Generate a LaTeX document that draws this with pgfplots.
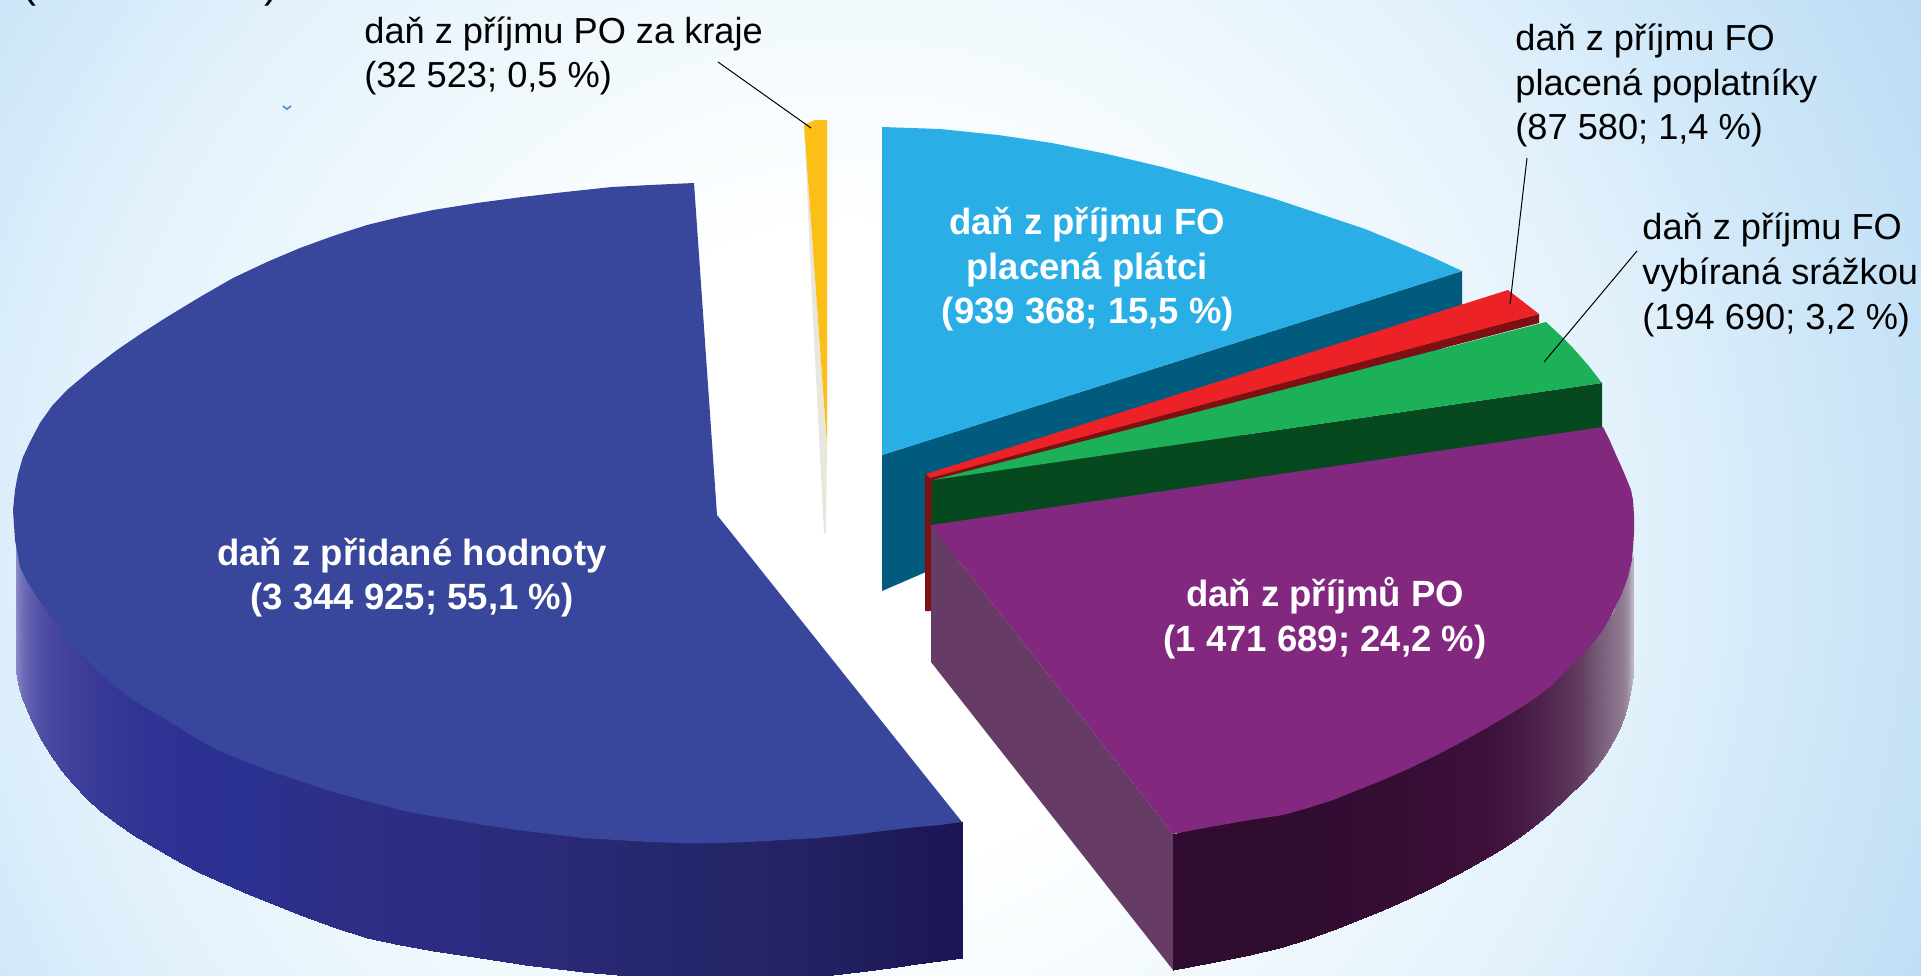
\documentclass[border=0pt]{standalone}
\usepackage{pgfplots}
\pgfplotsset{compat=1.18}
\usepackage{fontspec}
\setmainfont{Liberation Sans}
\definecolor{cTop}{RGB}{56,70,156}
\definecolor{cCyan}{RGB}{41,174,230}
\definecolor{cTeal}{RGB}{0,91,127}
\definecolor{cRed}{RGB}{236,34,39}
\definecolor{cDRed}{RGB}{124,16,19}
\definecolor{cGreen}{RGB}{28,177,89}
\definecolor{cDGreen}{RGB}{7,73,31}
\definecolor{cPurple}{RGB}{130,40,127}
\definecolor{cInner}{RGB}{102,60,102}
\definecolor{cYellow}{RGB}{251,191,24}
\definecolor{cGray}{RGB}{233,230,221}
\pgfdeclareradialshading{bgr}{\pgfpoint{0bp}{0bp}}{%
 color(0bp)=(white);
 color(6bp)=(white);
 color(9.3bp)=(rgb,255:red,245;green,251;blue,254);
 color(12.2bp)=(rgb,255:red,236;green,246;blue,252);
 color(14.3bp)=(rgb,255:red,230;green,243;blue,252);
 color(16.4bp)=(rgb,255:red,220;green,238;blue,251);
 color(18.4bp)=(rgb,255:red,208;green,232;blue,249);
 color(20.4bp)=(rgb,255:red,200;green,227;blue,247);
 color(22.4bp)=(rgb,255:red,191;green,221;blue,244);
 color(26.5bp)=(rgb,255:red,184;green,217;blue,242);
 color(50bp)=(rgb,255:red,184;green,217;blue,242)}
\newcommand{\lab}[3]{\node[anchor=base west,inner sep=0pt,text=black] at (axis cs:#1,#2) {\fontsize{18.1}{21.7}\selectfont #3};}
\newcommand{\wlab}[3]{\node[anchor=base,inner sep=0pt,text=white] at (axis cs:#1,#2) {\fontsize{18.25}{21.7}\selectfont\bfseries #3};}
\pgfplotstableread{
x y c
16 543 0
18 552 .5
22 570 1.2
30 582 2
40 598 3.2
50 612 4
61 626 4.65
73 640 6
86 655 6.5
100 668 7
116 682 7.5
133 695 8
150 705 8.5
167 715 9
183 725 9.5
200 735 10
225 746 10.5
250 758 11
275 768 11.5
300 777 12
333 787 12.5
367 797 13
400 805 13.5
433 811 14
467 817 14.5
500 822 15
525 825 15.5
550 829 16
583 832 16.5
617 835 17
650 837 18
683 838 18.5
717 838 19
750 837 19.5
783 835 20
808 833 20.5
833 831 21
867 827 22
890 824 22.5
917 821 23
940 818 23.5
962 822 24
16 672 0
18 684 .5
22 698 1.2
30 717 2
40 738 3.2
50 754 4
61 770 4.65
73 784 6
86 798 6.5
100 811 7
116 823 7.5
133 835 8
150 845 8.5
167 855 9
183 864 9.5
200 873 10
225 884 10.5
250 895 11
275 905 11.5
300 915 12
333 927 12.5
367 938 13
400 945 13.5
433 951 14
467 956 14.5
500 961 15
525 965 15.5
550 968 16
583 972 16.5
617 975 17
650 978 18
683 980 18.5
717 981 19
750 981 19.5
783 980 20
808 978 20.5
833 975 21
867 971 22
890 968 22.5
917 964 23
940 961 23.5
962 958 24
}\blueside
\pgfplotstableread{
x y c
1173 834 0
1210 824 .5
1250 817 1
1283 811 2
1308 804 2.5
1333 797 3
1358 787 3.5
1383 777 4
1408 766 4.5
1433 754 5
1458 741 5.5
1483 727 6
1500 717 6.5
1517 707 7
1533 697 8
1550 684 9
1567 669 10
1583 650 11
1597 635 12
1606 622 12.5
1613 613 13
1619 598 13.7
1624 585 14.3
1628 573 15
1631 560 15.7
1633 556 16
1173 970 0
1210 963 .5
1250 955 1
1283 947 2
1308 939 2.5
1333 930 3
1358 920 3.5
1383 910 4
1408 899 4.5
1433 887 5
1458 874 5.5
1483 860 6
1500 850 6.5
1517 839 7
1533 827 8
1550 813 9
1567 797 10
1583 782 11
1597 766 12
1606 753 12.5
1613 741 13
1619 730 13.7
1624 717 14.3
1628 703 15
1631 688 15.7
1633 675 16
}\purpleside
\begin{document}
\begin{tikzpicture}
\useasboundingbox (0,0) rectangle (960.5pt,487.5pt);
\begin{scope}
\clip (0,0) rectangle (960.5pt,487.5pt);
\shade[shading=bgr] (425pt,212.5pt) circle (650pt);
\end{scope}
\begin{axis}[
  at={(0,0)},anchor=south west,
  scale only axis,width=960.5pt,height=487.5pt,
  xmin=0,xmax=1921,ymin=0,ymax=975,y dir=reverse,
  hide axis,no markers,
]
% blue side
\addplot[surf,shader=interp,mesh/rows=2,mesh/ordering=x varies,point meta=explicit,point meta rel=per plot,
  colormap={bluecm}{rgb255=(143,140,200) rgb255=(118,115,187) rgb255=(95,93,175) rgb255=(84,83,168) rgb255=(72,72,160)
   rgb255=(66,67,156) rgb255=(63,64,155) rgb255=(55,58,150) rgb255=(50,53,148) rgb255=(46,50,146)
   rgb255=(44,48,144) rgb255=(43,49,145) rgb255=(45,48,136) rgb255=(45,46,132) rgb255=(44,44,130)
   rgb255=(43,43,125) rgb255=(42,42,120) rgb255=(40,40,114) rgb255=(38,39,110) rgb255=(37,37,106)
   rgb255=(36,35,100) rgb255=(34,32,96) rgb255=(31,29,92) rgb255=(29,25,88) rgb255=(26,22,84)}]
  table[x=x,y=y,meta=c]{\blueside};
% blue top
\addplot[fill=cTop,draw=none] coordinates {
(694,183)(650,185)(612,187)(565,192)(522,197)(477,203)(433,210)(400,217)(367,225)(333,236)(300,248)(267,262)(233,278)(200,297)(167,317)(142,333)(117,350)(92,369)(67,390)(52,406)(40,423)(31,440)(23,457)(18,474)(15,490)(13,510)(15,540)(20,567)(28,583)(37,597)(50,615)(67,637)(83,655)(100,673)(117,688)(133,700)(150,710)(167,720)(192,736)(217,750)(242,760)(267,770)(300,781)(333,792)(367,801)(400,810)(425,815)(450,819)(483,825)(517,830)(550,834)(583,838)(617,840)(650,842)(683,843)(717,843)(750,842)(783,840)(817,838)(850,835)(883,831)(917,827)(940,825)(962,822)(717,515)
} -- cycle;
% yellow slice
\addplot[fill=cGray,draw=none] coordinates {(804,125)(827,445)(826,533)(824,533)(812,300)} -- cycle;
\addplot[fill=cYellow,draw=none] coordinates {(804,125)(815,120)(827,120)(827,445)} -- cycle;
% teal side and cyan top
\addplot[fill=cTeal,draw=none] coordinates {(882,455)(1462,271)(1462,340)(882,591)} -- cycle;
\addplot[fill=cCyan,draw=none] coordinates {
(882,127)(940,129)(998,135)(1052,143)(1107,154)(1162,167)(1217,182)(1272,198)(1326,216)(1365,229)(1399,243)(1432,257)(1462,271)(882,455)
} -- cycle;
% red slice
\addplot[fill=cDRed,draw=none] coordinates {(925,474)(1539,314)(1539,323)(932,482)(931,611)(925,611)} -- cycle;
\addplot[fill=cRed,draw=none] coordinates {(926,474)(1508,290)(1539,314)(930,478)} -- cycle;
% green slice
\addplot[fill=cDGreen,draw=none] coordinates {(932,480)(1602,383)(1602,428)(931,526)} -- cycle;
\addplot[fill=cGreen,draw=none] coordinates {(933,480)(1546,322)(1560,335)(1573,348)(1588,365)(1602,383)} -- cycle;
% purple slice
\addplot[fill=cInner,draw=none] coordinates {(931,525)(1173,834)(1173,970)(931,662)} -- cycle;
\addplot[surf,shader=interp,mesh/rows=2,mesh/ordering=x varies,point meta=explicit,point meta rel=per plot,
  colormap={purplecm}{rgb255=(47,12,47) rgb255=(48,12,47) rgb255=(48,12,48) rgb255=(50,12,50) rgb255=(52,13,52)
   rgb255=(56,14,55) rgb255=(60,16,58) rgb255=(68,24,68) rgb255=(74,31,74) rgb255=(82,40,80)
   rgb255=(90,50,88) rgb255=(100,65,100) rgb255=(118,90,118) rgb255=(135,112,137) rgb255=(142,122,146)
   rgb255=(160,145,165) rgb255=(190,180,200)}]
  table[x=x,y=y,meta=c]{\purpleside};
\addplot[fill=cPurple,draw=none] coordinates {
(931,525)(1603,427)(1610,441)(1616,455)(1622,468)(1627,480)(1631,490)(1633,500)(1634,515)(1634,533)(1633,548)(1632,560)(1628,577)(1622,593)(1613,612)(1603,630)(1594,642)(1583,653)(1567,670)(1550,687)(1534,699)(1517,710)(1500,720)(1483,730)(1458,744)(1433,757)(1408,769)(1383,780)(1358,790)(1333,800)(1308,808)(1283,815)(1250,820)(1210,827)(1173,834)
} -- cycle;
% leader lines
\addplot[black,line width=0.5pt] coordinates {(718,62)(811,128)};
\addplot[black,line width=0.5pt] coordinates {(1527,158)(1510,304)};
\addplot[black,line width=0.5pt] coordinates {(1637,251)(1544,362)};
% stray mark
\addplot[color={rgb,255:red,90;green,150;blue,205},line width=0.9pt] coordinates {(283,106)(287,109)(291,106)};
% labels
\lab{364}{43}{daň z příjmu PO za kraje}
\lab{364}{87}{(32 523; 0,5 \%)}
\lab{1515}{50}{daň z příjmu FO}
\lab{1515}{95}{placená poplatníky}
\lab{1515}{139}{(87 580; 1,4 \%)}
\lab{1642}{239}{daň z příjmu FO}
\lab{1642}{284}{vybíraná srážkou}
\lab{1642}{329}{(194 690; 3,2 \%)}
\wlab{1087}{234}{daň z příjmu FO}
\wlab{1087}{279}{placená plátci}
\wlab{1088}{323}{(939 368; 15,5 \%)}
\wlab{412}{565}{daň z přidané hodnoty}
\wlab{412}{609}{(3 344 925; 55,1 \%)}
\wlab{1325}{606}{daň z příjmů PO}
\wlab{1325}{651}{(1 471 689; 24,2 \%)}
\node[anchor=base,inner sep=0pt] at (axis cs:29,-3) {\fontsize{21}{24}\selectfont (};
\node[anchor=base,inner sep=0pt] at (axis cs:271,-3) {\fontsize{21}{24}\selectfont )};
\end{axis}
\end{tikzpicture}
\end{document}
